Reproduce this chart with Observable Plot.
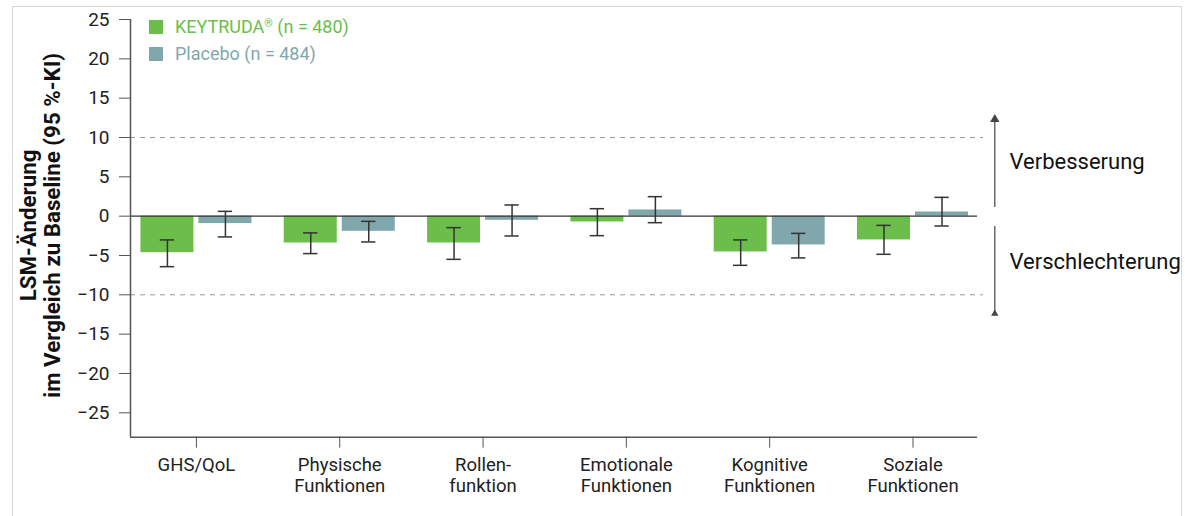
<!DOCTYPE html>
<html>
<head>
<meta charset="utf-8">
<script src="https://cdn.jsdelivr.net/npm/d3@7"></script>
<script src="https://cdn.jsdelivr.net/npm/@observablehq/plot@0.6"></script>
<style>
  html, body { margin: 0; padding: 0; background: #fff; }
  #wrap { position: relative; width: 1185px; height: 516px; overflow: hidden; font-family: Roboto, "Open Sans", sans-serif; }
  #border { position: absolute; left: 12px; top: 6px; width: 1170px; height: 600px; border: 1px solid #d6d6d6; box-sizing: border-box; }
  #chart { position: absolute; left: 0; top: 0; }
  #legend { position: absolute; left: 149px; top: 13.5px; font-size: 18px; }
  .row { display: flex; align-items: center; height: 26.7px; }
  .sw { width: 14px; height: 14px; margin-right: 12px; }
  sup { font-size: 0.6em; vertical-align: 0.6em; line-height: 0; }
</style>
</head>
<body>
<div id="wrap">
  <div id="border"></div>
  <div id="chart"></div>
  <div id="legend"></div>
</div>
<script>
// ---- data ----
const categories = ["GHS/QoL", "Physische\nFunktionen", "Rollen-\nfunktion", "Emotionale\nFunktionen", "Kognitive\nFunktionen", "Soziale\nFunktionen"];
const seriesNames = ["KEYTRUDA® (n = 480)", "Placebo (n = 484)"];
const seriesColors = ["#6cbe4b", "#80a8ac"];
const keytruda   = [-4.64, -3.41, -3.41, -0.74, -4.55, -3.02];
const keytrudaLo = [-6.42, -4.76, -5.49, -2.48, -6.25, -4.85];
const keytrudaHi = [-3.02, -2.13, -1.46,  0.95, -3.02, -1.17];
const placebo    = [-0.95, -1.93, -0.53,  0.79, -3.66,  0.53];
const placeboLo  = [-2.64, -3.28, -2.52, -0.83, -5.31, -1.25];
const placeboHi  = [ 0.61, -0.66,  1.42,  2.48, -2.19,  2.39];
const yTicks = [25, 20, 15, 10, 5, 0, -5, -10, -15, -20, -25];
const thresholds = [10, -10];
const yTitle = "LSM-Änderung\nim Vergleich zu Baseline (95 %-KI)";
const annotLabels = ["Verbesserung", "Verschlechterung"];
const annotLabelY = [6.9, -5.8];
const arrowFrom = [1.1, -1.3];
const arrowTo = [12.3, -12.4];

// ---- layout ----
const xDomain = [-0.46, 5.45];
const yDomain = [-28.1, 25];
const offset = 0.2024, halfW = 0.185, capHalf = 0.05;

const rows = [];
categories.forEach((c, i) => {
  rows.push({i, s: 0, x: i - offset, v: keytruda[i], lo: keytrudaLo[i], hi: keytrudaHi[i]});
  rows.push({i, s: 1, x: i + offset, v: placebo[i], lo: placeboLo[i], hi: placeboHi[i]});
});
const annots = annotLabels.map((t, k) => ({t, y: annotLabelY[k], y1: arrowFrom[k], y2: arrowTo[k]}));

const plot = Plot.plot({
  width: 1185,
  height: 516,
  marginTop: 19,
  marginBottom: 79.3,
  marginLeft: 130,
  marginRight: 208,
  style: { fontFamily: "Roboto, sans-serif", fontSize: "19px", color: "#222", background: "transparent", overflow: "visible" },
  x: { type: "linear", domain: xDomain, axis: null },
  y: { domain: yDomain, axis: null },
  marks: [
    Plot.ruleY(thresholds, { stroke: "#9a9a9a", strokeWidth: 1, strokeDasharray: "5,5", insetRight: -6 }),
    Plot.rectY(rows, { x1: d => d.x - halfW, x2: d => d.x + halfW, y1: 0, y2: "v", fill: d => seriesColors[d.s] }),
    Plot.ruleY([0], { stroke: "#333", strokeWidth: 1.2 }),
    Plot.ruleX(rows, { x: "x", y1: "lo", y2: "hi", stroke: "#333", strokeWidth: 1.5 }),
    Plot.ruleY(rows, { y: "lo", x1: d => d.x - capHalf, x2: d => d.x + capHalf, stroke: "#333", strokeWidth: 1.5 }),
    Plot.ruleY(rows, { y: "hi", x1: d => d.x - capHalf, x2: d => d.x + capHalf, stroke: "#333", strokeWidth: 1.5 }),
    // axes
    Plot.ruleX([xDomain[0]], { stroke: "#555", strokeWidth: 1.5 }),
    Plot.ruleY([yDomain[0]], { stroke: "#555", strokeWidth: 1.5 }),
    Plot.axisY({ ticks: yTicks, tickSize: 11, tickPadding: 10, fontSize: 19, stroke: "#555", fill: "#222", label: null }),
    Plot.axisX({ ticks: d3.range(categories.length), tickFormat: i => categories[i], tickSize: 11, tickPadding: 8, fontSize: 18.5, lineHeight: 1.12, stroke: "#555", fill: "#222", label: null }),
    Plot.text([yTitle], { frameAnchor: "left", textAnchor: "middle", rotate: -90, dx: -90, dy: -3, fontWeight: "bold", fontSize: 22.3, lineHeight: 1.08, fill: "#111" }),
    // annotations
    Plot.ruleX(annots, { x: xDomain[1], y1: "y1", y2: "y2", dx: 17.3, stroke: "#444", strokeWidth: 1.2 }),
    Plot.dot(annots, { x: xDomain[1], y: "y2", dx: 17.3, symbol: d => d.y2 > 0 ? "triangle" : "triangle2", r: 3.5, fill: "#444" }),
    Plot.text(annots, { x: xDomain[1], y: "y", text: "t", dx: 32, textAnchor: "start", fontSize: 22, fill: "#111" })
  ]
});
document.getElementById("chart").appendChild(plot);

// ---- legend ----
const leg = document.getElementById("legend");
seriesNames.forEach((n, k) => {
  const r = document.createElement("div");
  r.className = "row";
  r.style.color = seriesColors[k];
  const sw = document.createElement("div");
  sw.className = "sw";
  sw.style.background = seriesColors[k];
  const t = document.createElement("span");
  t.innerHTML = n.replace("®", "<sup>®</sup>");
  r.appendChild(sw);
  r.appendChild(t);
  leg.appendChild(r);
});
</script>
</body>
</html>
